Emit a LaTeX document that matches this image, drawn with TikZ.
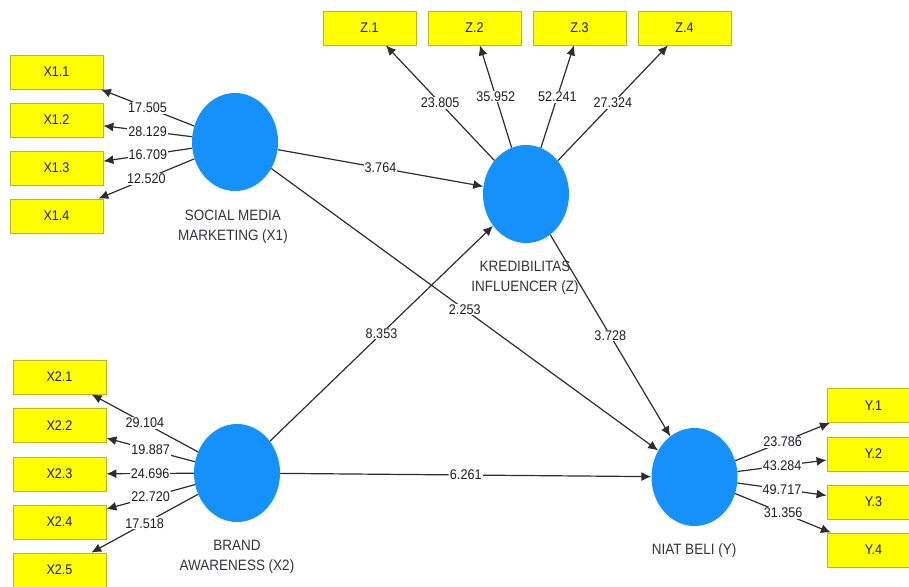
\documentclass[tikz,border=0pt]{standalone}
\usepackage{fontspec}
\setmainfont[FakeStretch=0.9]{Liberation Sans}
\usetikzlibrary{shapes.geometric,arrows.meta}
\definecolor{boxyellow}{RGB}{255,255,0}
\definecolor{boxborder}{RGB}{185,185,30}
\definecolor{lvblue}{RGB}{20,145,250}
\definecolor{linegray}{RGB}{45,45,45}
\definecolor{labtext}{RGB}{30,30,35}
\definecolor{lvtext}{RGB}{50,50,60}
\begin{document}
\begin{tikzpicture}[x=1pt,y=-1pt,
  ind/.style={draw=boxborder, line width=0.8pt, fill=boxyellow, minimum width=93pt, minimum height=34pt, inner sep=0pt, font=\fontsize{14}{16}\selectfont, text=labtext},
  lv/.style={ellipse, fill=lvblue, minimum width=86pt, minimum height=98pt, inner sep=0pt},
  lvlab/.style={align=center, font=\fontsize{15}{20.5}\selectfont, text=lvtext},
  conn/.style={draw=linegray, line width=1.2pt, -{Latex[length=10pt,width=9pt]}},
  val/.style={fill=white, inner sep=1pt, font=\fontsize{14}{16}\selectfont, text=labtext, pos=0.5}]
\useasboundingbox (0,0) rectangle (909,586);
\clip (0,0) rectangle (909,586);
% latent variables
\node[lv] (smm) at (235,142) {};
\node[lv] (kred) at (526,194) {};
\node[lv] (ba) at (237,473) {};
\node[lv] (niat) at (694.5,477) {};
% latent labels
\node[lvlab] (smml) at (233,227) {SOCIAL MEDIA\\MARKETING (X1)};
\node[lvlab] (kredl) at (525,278) {KREDIBILITAS\\INFLUENCER (Z)};
\node[lvlab] (bal) at (237,557) {BRAND\\AWARENESS (X2)};
\node[lvlab] (niatl) at (694,551) {NIAT BELI (Y)};
% indicators X1
\node[ind] (x11) at (56.5,72) {X1.1};
\node[ind] (x12) at (56.5,120) {X1.2};
\node[ind] (x13) at (56.5,168) {X1.3};
\node[ind] (x14) at (56.5,216) {X1.4};
% indicators X2
\node[ind] (x21) at (59.5,377) {X2.1};
\node[ind] (x22) at (59.5,425.5) {X2.2};
\node[ind] (x23) at (59.5,474) {X2.3};
\node[ind] (x24) at (59.5,522) {X2.4};
\node[ind] (x25) at (59.5,570) {X2.5};
% indicators Z
\node[ind] (z1) at (369.5,28) {Z.1};
\node[ind] (z2) at (474.5,28) {Z.2};
\node[ind] (z3) at (579.5,28) {Z.3};
\node[ind] (z4) at (684.5,28) {Z.4};
% indicators Y
\node[ind] (y1) at (873.5,405.5) {Y.1};
\node[ind] (y2) at (873.5,454) {Y.2};
\node[ind] (y3) at (873.5,502) {Y.3};
\node[ind] (y4) at (873.5,550) {Y.4};
% outer loadings X1
\draw[conn] (smm) -- node[val] {17.505} (x11);
\draw[conn] (smm) -- node[val] {28.129} (x12);
\draw[conn] (smm) -- node[val] {16.709} (x13);
\draw[conn] (smm) -- node[val] {12.520} (x14);
% outer loadings X2
\draw[conn] (ba) -- node[val] {29.104} (x21);
\draw[conn] (ba) -- node[val] {19.887} (x22);
\draw[conn] (ba) -- node[val] {24.696} (x23);
\draw[conn] (ba) -- node[val] {22.720} (x24);
\draw[conn] (ba) -- node[val] {17.518} (x25);
% outer loadings Z
\draw[conn] (kred) -- node[val] {23.805} (z1);
\draw[conn] (kred) -- node[val] {35.952} (z2);
\draw[conn] (kred) -- node[val] {52.241} (z3);
\draw[conn] (kred) -- node[val] {27.324} (z4);
% outer loadings Y
\draw[conn] (niat) -- node[val] {23.786} (y1);
\draw[conn] (niat) -- node[val] {43.284} (y2);
\draw[conn] (niat) -- node[val] {49.717} (y3);
\draw[conn] (niat) -- node[val] {31.356} (y4);
% structural paths
\draw[conn] (smm) -- node[val] {3.764} (kred);
\draw[conn] (smm) -- node[val] {2.253} (niat);
\draw[conn] (ba) -- node[val] {8.353} (kred);
\draw[conn] (ba) -- node[val] {6.261} (niat);
\draw[conn] (kred) -- node[val] {3.728} (niat);
\end{tikzpicture}
\end{document}
